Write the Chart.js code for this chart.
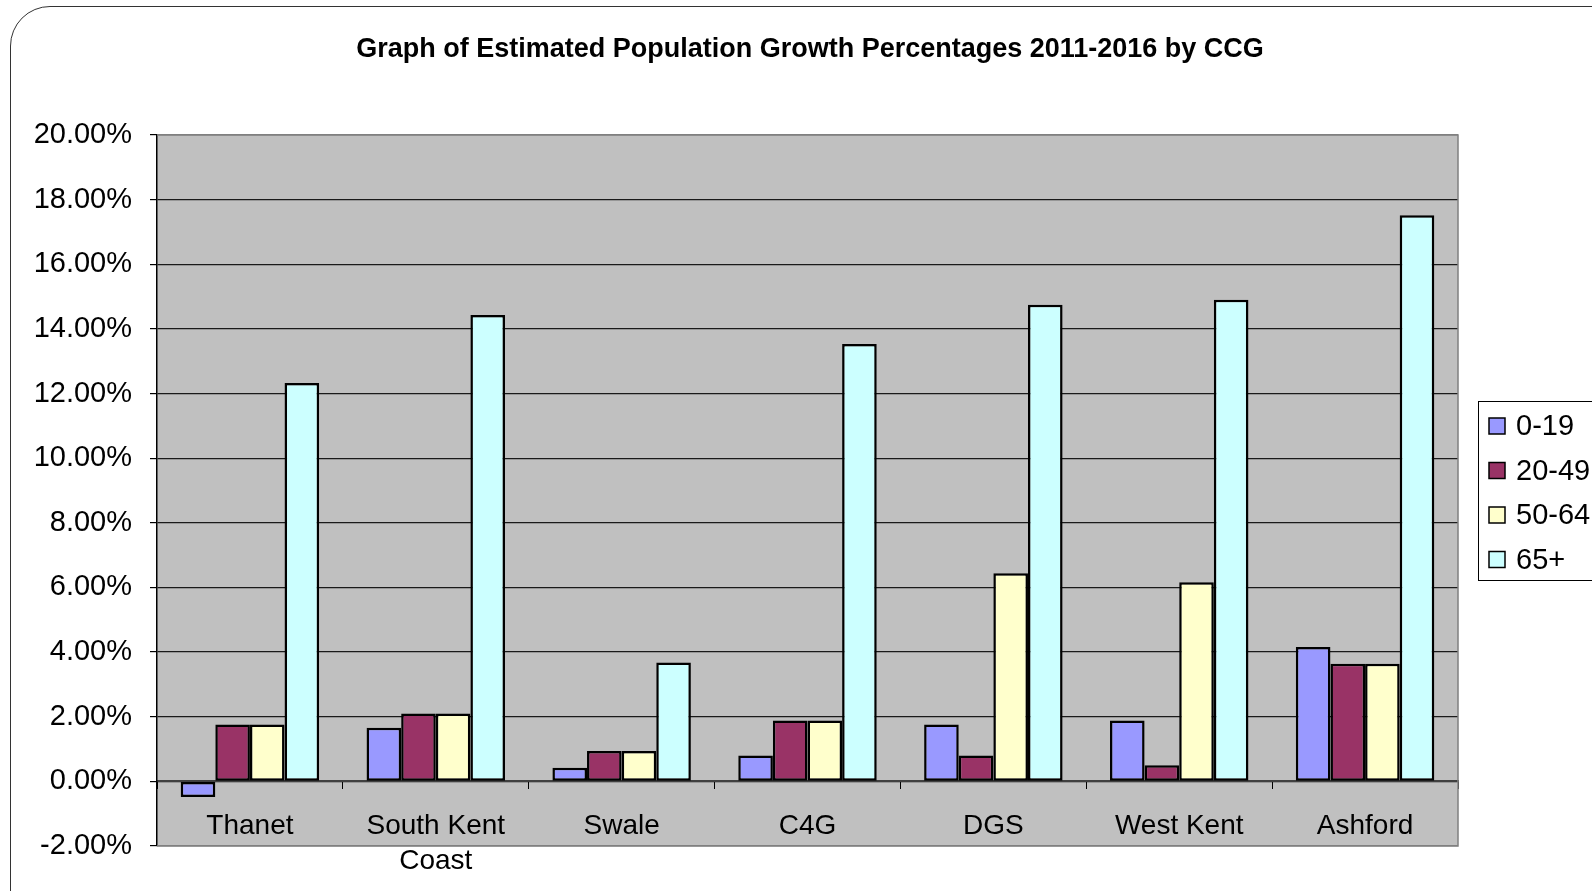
<!DOCTYPE html>
<html>
<head>
<meta charset="utf-8">
<script src="https://cdn.jsdelivr.net/npm/chart.js@4"></script>
<style>
  html, body { margin: 0; padding: 0; background: #fff; overflow: hidden; }
  #wrap { position: relative; width: 1592px; height: 891px; }
  #frame { position: absolute; left: 10px; top: 6px; width: 1700px; height: 1000px;
           border: 1.5px solid #333; border-radius: 40px; box-sizing: border-box; }
  canvas { position: absolute; left: 0; top: 0; }
</style>
</head>
<body>
<div id="wrap">
  <div id="frame"></div>
  <canvas id="chart" width="1592" height="891"></canvas>
</div>
<script>
// Categorias (CCG) y series por grupo de edad
const ccgs = ['Thanet', ['South Kent', 'Coast'], 'Swale', 'C4G', 'DGS', 'West Kent', 'Ashford'];
const ageGroups = ['0-19', '20-49', '50-64', '65+'];
const age0to19 = [-0.48, 1.66, 0.42, 0.8, 1.76, 1.88, 4.16];
const age20to49 = [1.76, 2.1, 0.94, 1.88, 0.8, 0.5, 3.64];
const age50to64 = [1.76, 2.1, 0.94, 1.88, 6.44, 6.16, 3.64];
const age65plus = [12.33, 14.43, 3.68, 13.53, 14.75, 14.9, 17.52];
const yTicks = [-2, 0, 2, 4, 6, 8, 10, 12, 14, 16, 18, 20];
const chartTitle = 'Graph of Estimated Population Growth Percentages 2011-2016 by CCG';

const colors = ['#9999ff', '#993366', '#ffffcc', '#ccffff'];
const FONT = "'Liberation Sans', Arial, sans-serif";

// Fondo gris del area de trazado, titulo y leyenda
const decor = {
    id: 'decor',
    beforeDraw(chart) {
        const {ctx, chartArea: a} = chart;
        ctx.save();
        ctx.fillStyle = '#c0c0c0';
        ctx.fillRect(a.left, a.top, a.right - a.left, a.bottom - a.top);
        ctx.restore();
    },
    afterDraw(chart) {
        const {ctx, chartArea: a} = chart;
        ctx.save();
        // borde gris arriba, derecha y abajo
        ctx.strokeStyle = '#808080';
        ctx.lineWidth = 1.5;
        ctx.beginPath();
        ctx.moveTo(a.left, a.top);
        ctx.lineTo(a.right, a.top);
        ctx.lineTo(a.right, a.bottom);
        ctx.lineTo(a.left, a.bottom);
        ctx.stroke();

        // titulo
        ctx.fillStyle = '#000';
        ctx.font = 'bold 27px ' + FONT;
        ctx.textAlign = 'center';
        ctx.textBaseline = 'middle';
        ctx.fillText(chartTitle, 810, 50);

        // leyenda
        ctx.fillStyle = '#fff';
        ctx.fillRect(1478, 401, 200, 179);
        ctx.strokeStyle = '#000';
        ctx.lineWidth = 1;
        ctx.strokeRect(1478.5, 401.5, 200, 179);
        ctx.font = '29px ' + FONT;
        ctx.textAlign = 'left';
        chart.data.datasets.forEach((ds, i) => {
            const y = 426 + i * 44.5;
            ctx.fillStyle = ds.backgroundColor;
            ctx.fillRect(1489, y - 8, 16, 16);
            ctx.strokeStyle = '#000';
            ctx.lineWidth = 1.5;
            ctx.strokeRect(1489, y - 8, 16, 16);
            ctx.fillStyle = '#000';
            ctx.fillText(ds.label, 1516, y + 1);
        });
        ctx.restore();
    }
};

const seriesValues = [age0to19, age20to49, age50to64, age65plus];

new Chart(document.getElementById('chart'), {
    type: 'bar',
    data: {
        labels: ccgs,
        datasets: ageGroups.map((g, i) => ({
            label: g,
            data: seriesValues[i],
            backgroundColor: colors[i],
            borderColor: '#000',
            borderWidth: 2.5,
            borderSkipped: false,
            categoryPercentage: 0.745,
            barPercentage: 1
        }))
    },
    options: {
        responsive: false,
        animation: false,
        devicePixelRatio: 1,
        layout: { padding: { left: 0, right: 134, top: 135, bottom: 45 } },
        plugins: {
            legend: { display: false },
            title: { display: false },
            tooltip: { enabled: false }
        },
        scales: {
            x: {
                position: { y: 0 },
                grid: {
                    offset: true,
                    drawOnChartArea: false,
                    drawTicks: true,
                    tickLength: 7,
                    color: '#000'
                },
                border: { display: true, color: '#404040', width: 2 },
                ticks: {
                    color: '#000',
                    font: { family: FONT, size: 28, lineHeight: 1.25 },
                    padding: 20,
                    maxRotation: 0,
                    autoSkip: false
                }
            },
            y: {
                min: -2,
                max: 20,
                afterBuildTicks(scale) {
                    scale.ticks = yTicks.map(v => ({ value: v }));
                },
                afterFit(scale) { scale.width = 157; },
                grid: {
                    color: c => (c.tick && (c.tick.value === -2 || c.tick.value === 20)) ? '#808080' : '#1a1a1a',
                    tickColor: '#000',
                    tickLength: 7,
                    lineWidth: 1.2
                },
                border: { display: true, color: '#000', width: 1.5 },
                ticks: {
                    color: '#000',
                    font: { family: FONT, size: 29 },
                    padding: 18,
                    callback: v => v.toFixed(2) + '%'
                }
            }
        }
    },
    plugins: [decor]
});
</script>
</body>
</html>
